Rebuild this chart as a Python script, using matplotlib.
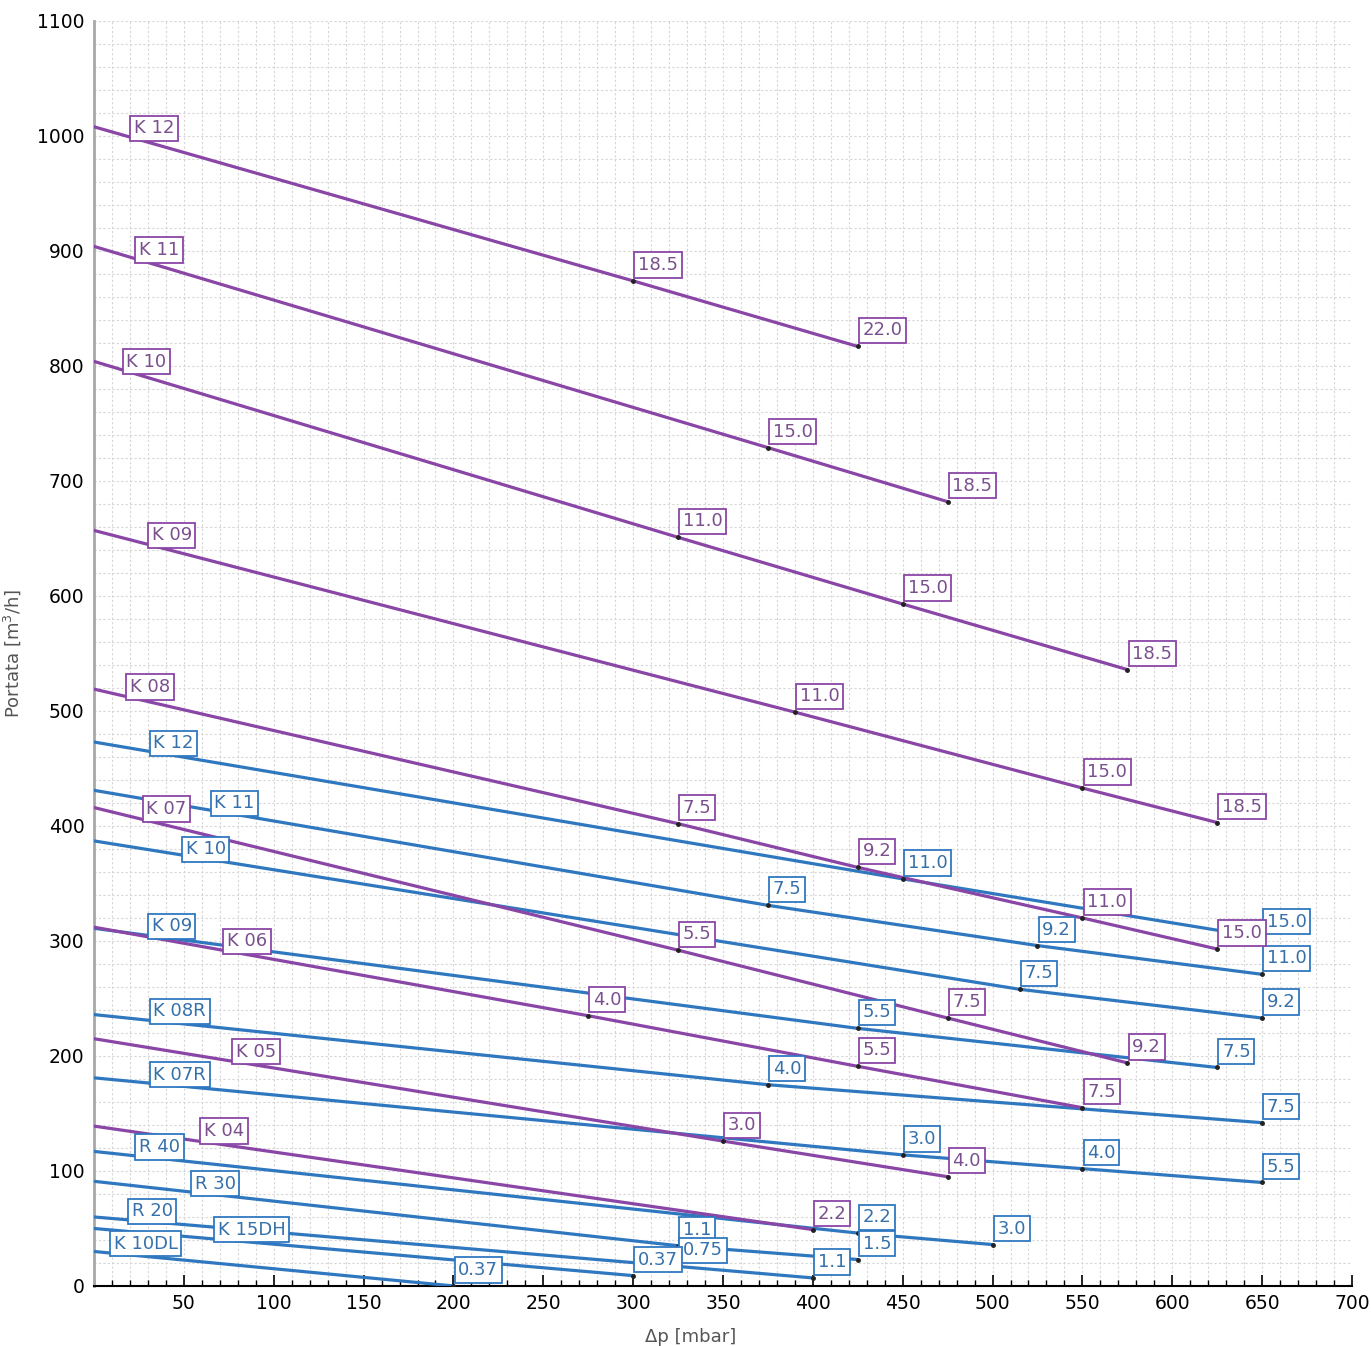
import numpy as np
import matplotlib.pyplot as plt

plt.rcParams['font.family'] = ['DejaVu Sans']

PURPLE = '#8a46a6'
BLUE = '#2f78c0'
PURPLE_TXT = '#7a4f8e'
BLUE_TXT = '#3570ab'

# serie K (viola): pressione [mbar], portata [m3/h], potenza motore [kW]
k12_x = [0, 300, 425]
k12_y = [1008, 874, 817]
k12_kw = ['18.5', '22.0']

k11_x = [0, 375, 475]
k11_y = [904, 729, 682]
k11_kw = ['15.0', '18.5']

k10_x = [0, 325, 450, 575]
k10_y = [804, 651, 593, 536]
k10_kw = ['11.0', '15.0', '18.5']

k09_x = [0, 390, 550, 625]
k09_y = [657, 499, 433, 403]
k09_kw = ['11.0', '15.0', '18.5']

k08_x = [0, 325, 425, 550, 625]
k08_y = [519, 402, 364, 320, 293]
k08_kw = ['7.5', '9.2', '11.0', '15.0']

k07_x = [0, 325, 475, 575]
k07_y = [416, 292, 233, 194]
k07_kw = ['5.5', '7.5', '9.2']

k06_x = [0, 275, 425, 550]
k06_y = [312, 235, 191, 155]
k06_kw = ['4.0', '5.5', '7.5']

k05_x = [0, 350, 475]
k05_y = [215, 126, 95]
k05_kw = ['3.0', '4.0']

k04_x = [0, 400]
k04_y = [139, 49]
k04_kw = ['2.2']

# serie K / R (blu)
bk12_x = [0, 450, 650]
bk12_y = [473, 354, 303]
bk12_kw = ['11.0', '15.0']

bk11_x = [0, 375, 525, 650]
bk11_y = [431, 331, 296, 271]
bk11_kw = ['7.5', '9.2', '11.0']

bk10_x = [0, 515, 650]
bk10_y = [387, 258, 233]
bk10_kw = ['7.5', '9.2']

bk09_x = [0, 425, 625]
bk09_y = [311, 224, 190]
bk09_kw = ['5.5', '7.5']

k08r_x = [0, 375, 650]
k08r_y = [236, 175, 142]
k08r_kw = ['4.0', '7.5']

k07r_x = [0, 450, 550, 650]
k07r_y = [181, 114, 102, 90]
k07r_kw = ['3.0', '4.0', '5.5']

r40_x = [0, 425, 500]
r40_y = [117, 46, 36]
r40_kw = ['2.2', '3.0']

r30_x = [0, 325, 425]
r30_y = [91, 35, 23]
r30_kw = ['1.1', '1.5']

r20_x = [0, 325, 400]
r20_y = [60, 17, 7]
r20_kw = ['0.75', '1.1']

k15dh_x = [0, 300]
k15dh_y = [50, 9]
k15dh_kw = ['0.37']

k10dl_x = [0, 200]
k10dl_y = [30, 0]
k10dl_kw = ['0.37']

# nome curva e posizione dell'etichetta (angolo in basso a sinistra)
blue_curves = [
    ('K 12', bk12_x, bk12_y, bk12_kw, 33, 464),
    ('K 11', bk11_x, bk11_y, bk11_kw, 67, 412),
    ('K 10', bk10_x, bk10_y, bk10_kw, 51, 372),
    ('K 09', bk09_x, bk09_y, bk09_kw, 32, 305),
    ('K 08R', k08r_x, k08r_y, k08r_kw, 33, 231),
    ('K 07R', k07r_x, k07r_y, k07r_kw, 33, 176),
    ('R 40', r40_x, r40_y, r40_kw, 25, 113),
    ('R 30', r30_x, r30_y, r30_kw, 56, 81),
    ('R 20', r20_x, r20_y, r20_kw, 21, 57),
    ('K 15DH', k15dh_x, k15dh_y, k15dh_kw, 69, 41),
    ('K 10DL', k10dl_x, k10dl_y, k10dl_kw, 11, 29),
]

purple_curves = [
    ('K 12', k12_x, k12_y, k12_kw, 22, 999),
    ('K 11', k11_x, k11_y, k11_kw, 25, 893),
    ('K 10', k10_x, k10_y, k10_kw, 18, 796),
    ('K 09', k09_x, k09_y, k09_kw, 32, 645),
    ('K 08', k08_x, k08_y, k08_kw, 20, 513),
    ('K 07', k07_x, k07_y, k07_kw, 29, 407),
    ('K 06', k06_x, k06_y, k06_kw, 74, 292),
    ('K 05', k05_x, k05_y, k05_kw, 79, 196),
    ('K 04', k04_x, k04_y, k04_kw, 61, 127),
]

fig = plt.figure(figsize=(13.71, 13.46), dpi=100)
ax = fig.add_axes([0.0686, 0.0446, 0.9175, 0.9398])

ax.set_xlim(0, 700)
ax.set_ylim(0, 1100)

ax.set_xticks(np.arange(50, 701, 50))
ax.set_xticks(np.arange(0, 701, 10), minor=True)
ax.set_yticks(np.arange(0, 1101, 100))
ax.set_yticks(np.arange(0, 1101, 20), minor=True)
ax.grid(which='both', color='#d6d6d6', linestyle=(0, (2, 2)), linewidth=0.8)
ax.set_axisbelow(True)

ax.tick_params(axis='x', which='major', direction='in', length=8, width=1.2,
               labelsize=13.5, pad=6)
ax.tick_params(axis='x', which='minor', direction='in', length=4, width=1)
ax.tick_params(axis='y', which='both', length=0, labelsize=13.5, pad=7)

for s in ['top', 'right']:
    ax.spines[s].set_visible(False)
ax.spines['bottom'].set_linewidth(1.5)
ax.spines['left'].set_color('#a8a8a8')
ax.spines['left'].set_linewidth(2)

ax.set_xlabel('Δp [mbar]', fontsize=13, color='#555555')
ax.xaxis.set_label_coords(0.474, -0.033)
ax.set_ylabel('Portata [m$^3$/h]', fontsize=13, color='#555555', labelpad=10)


def draw_curves(curves, color, txt_color):
    for name, xs, ys, kws, lx, ly in curves:
        ax.plot(xs, ys, color=color, linewidth=2.3, zorder=3)
        ax.plot(xs[1:], ys[1:], 'o', color='#222222', markersize=2.5, zorder=4)
        ax.text(lx, ly, name, fontsize=13, color=txt_color, ha='left', va='bottom',
                zorder=5,
                bbox=dict(boxstyle='square,pad=0.2', fc='white', ec=color, lw=1.3))
        for x, y, kw in zip(xs[1:], ys[1:], kws):
            ax.annotate(kw, (x, y), xytext=(3.5, 5), textcoords='offset points',
                        fontsize=13, color=txt_color, ha='left', va='bottom',
                        zorder=5,
                        bbox=dict(boxstyle='square,pad=0.2', fc='white', ec=color, lw=1.3))


draw_curves(blue_curves, BLUE, BLUE_TXT)
draw_curves(purple_curves, PURPLE, PURPLE_TXT)

fig.savefig('out.png', dpi=100)
